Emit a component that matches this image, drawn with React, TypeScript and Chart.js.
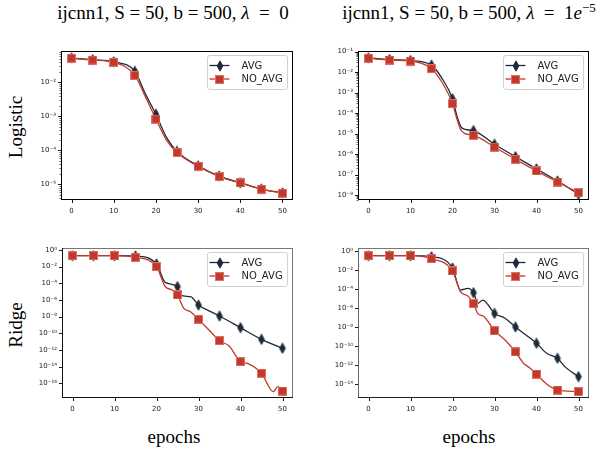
import React, { useEffect, useRef } from "react";
import { Chart, registerables } from "chart.js";
Chart.register(...registerables);

// ---------------- data ----------------
const xTickValues = [0, 10, 20, 30, 40, 50];
const seriesNames = ["AVG", "NO_AVG"];

// Logistic, lambda = 0
const logL0Epochs = [0, 5, 10, 15, 17.5, 20, 22.5, 25, 30, 35, 40, 45, 50];
const logL0Avg = [0.052, 0.046, 0.04, 0.021, 4.6e-3, 1.15e-3, 2.4e-4, 9.3e-5, 3.5e-5, 1.75e-5, 1.12e-5, 7.3e-6, 5.6e-6];
const logL0NoAvg = [0.051, 0.045, 0.039, 0.016, 3.8e-3, 8.3e-4, 2.0e-4, 8.7e-5, 3.4e-5, 1.7e-5, 1.1e-5, 7.2e-6, 5.5e-6];

// Logistic, lambda = 1e-5
const logL5Epochs = [0, 5, 10, 15, 17.5, 20, 21, 22, 23, 25, 30, 35, 40, 45, 50];
const logL5Avg = [0.05, 0.041, 0.037, 0.022, 5.0e-3, 5.0e-4, 8.0e-5, 2.2e-5, 1.6e-5, 1.4e-5, 3.0e-6, 7.4e-7, 1.9e-7, 4.8e-8, 1.1e-8];
const logL5NoAvg = [0.048, 0.039, 0.035, 0.0148, 3.2e-3, 2.9e-4, 5.6e-5, 1.5e-5, 1.0e-5, 8.3e-6, 2.2e-6, 5.5e-7, 1.5e-7, 4.3e-8, 1.3e-8];

// Ridge, lambda = 0
const ridL0AvgEpochs = [0, 5, 10, 15, 20, 22.1, 25, 25.7, 28.1, 30, 32.5, 35, 40, 45, 50];
const ridL0Avg = [0.21, 0.21, 0.21, 0.19, 0.021, 1.3e-4, 4.0e-5, 4.0e-6, 2.5e-6, 2.5e-7, 5.0e-8, 1.2e-8, 4.8e-10, 1.9e-11, 1.6e-12];
const ridL0NoAvgEpochs = [0, 5, 10, 15, 20, 22.1, 23.7, 25, 26.5, 28.1, 30, 32.5, 35, 37.3, 40, 41.6, 45, 47.8, 48.9, 50];
const ridL0NoAvg = [0.21, 0.21, 0.21, 0.13, 0.01, 4.0e-5, 1.6e-5, 4.0e-6, 1.0e-7, 4.0e-8, 4.8e-9, 2.5e-10, 1.3e-11, 3.0e-12, 4.0e-14, 2.5e-14, 1.6e-15, 1.0e-17, 4.0e-17, 1.2e-17];

// Ridge, lambda = 1e-5
const ridL5AvgEpochs = [0, 5, 10, 15, 20, 21.9, 23.7, 25, 26.1, 27.2, 30, 32.5, 35, 37.5, 40, 42.4, 45, 46.8, 50];
const ridL5Avg = [0.3, 0.3, 0.3, 0.23, 0.015, 7.4e-5, 1.1e-4, 3.9e-5, 3.0e-6, 6.6e-6, 2.6e-7, 8.0e-8, 9.7e-9, 1.4e-9, 1.9e-10, 1.7e-11, 5.0e-12, 6.3e-13, 5.9e-14];
const ridL5NoAvgEpochs = [0, 5, 10, 15, 20, 21.9, 23.7, 25, 26.1, 27.3, 30, 32.5, 35, 36.9, 38.5, 40, 42.4, 44, 45, 50];
const ridL5NoAvg = [0.3, 0.3, 0.3, 0.145, 7.4e-3, 5.0e-5, 1.7e-5, 2.8e-6, 2.2e-7, 1.4e-7, 4.0e-9, 4.2e-10, 2.3e-11, 1.5e-12, 4.5e-13, 1.1e-13, 1.0e-14, 3.5e-15, 2.3e-15, 1.6e-15];

// axis ranges and y tick exponents
const logL0Range = [3.47e-6, 0.0832];
const logL0Major = [-2, -3, -4, -5];
const logL5Range = [5.7e-9, 0.108];
const logL5Major = [-1, -2, -3, -4, -5, -6, -7, -8];
const ridL0Range = [1.74e-18, 1.74];
const ridL0Major = [0, -2, -4, -6, -8, -10, -12, -14, -16];
const ridL5Range = [3.39e-16, 1.92];
const ridL5Major = [0, -2, -4, -6, -8, -10, -12, -14];

// ---------------- style ----------------
const AVG_COLOR = "#1c2a3a";
const NOAVG_COLOR = "#c0392b";
const TICK_FONT = { family: "'DejaVu Sans', sans-serif", size: 7 };

function sup(n: number): string {
  const m: Record<string, string> = { "-": "⁻", "0": "⁰", "1": "¹", "2": "²", "3": "³", "4": "⁴", "5": "⁵", "6": "⁶", "7": "⁷", "8": "⁸", "9": "⁹" };
  return String(n).split("").map((c) => m[c] ?? c).join("");
}

let diamondImg: HTMLCanvasElement | null = null;
let squareImg: HTMLCanvasElement | null = null;
function getDiamond() {
  if (diamondImg) return diamondImg;
  const c = document.createElement("canvas");
  c.width = 8; c.height = 12;
  const g = c.getContext("2d")!;
  g.beginPath();
  g.moveTo(4, 0.8); g.lineTo(6.9, 6); g.lineTo(4, 11.2); g.lineTo(1.1, 6); g.closePath();
  g.fillStyle = AVG_COLOR; g.fill();
  g.strokeStyle = AVG_COLOR; g.lineWidth = 0.8; g.stroke();
  diamondImg = c;
  return c;
}
function getSquare() {
  if (squareImg) return squareImg;
  const c = document.createElement("canvas");
  c.width = 9; c.height = 9;
  const g = c.getContext("2d")!;
  g.fillStyle = "#de6f66"; g.fillRect(0, 0, 9, 9);
  g.fillStyle = NOAVG_COLOR; g.fillRect(1, 1, 7, 7);
  squareImg = c;
  return c;
}

type Spec = {
  area: [number, number, number, number];
  range: number[];
  major: number[];
  minors: boolean;
  avgEpochs: number[]; avg: number[];
  noAvgEpochs: number[]; noAvg: number[];
  spines: { left: string; bottom: string; top: string; right: string };
};

function buildYTicks(spec: Spec) {
  const [mn, mx] = spec.range;
  const vals: { value: number; major: boolean }[] = [];
  spec.major.forEach((e) => vals.push({ value: Math.pow(10, e), major: true }));
  if (spec.minors) {
    const lo = Math.floor(Math.log10(mn)) - 1, hi = Math.ceil(Math.log10(mx));
    for (let d = lo; d <= hi; d++) {
      for (let k = 2; k <= 9; k++) {
        const v = k * Math.pow(10, d);
        if (v >= mn && v <= mx) vals.push({ value: v, major: false });
      }
    }
  }
  vals.sort((a, b) => a.value - b.value);
  return vals;
}

function Panel({ spec }: { spec: Spec }) {
  const ref = useRef<HTMLCanvasElement>(null);
  const [x0, y0, x1, y1] = spec.area;
  const cx = x0 - 44, cy = y0 - 12;
  const cw = x1 - cx + 10, ch = y1 - cy + 22;

  useEffect(() => {
    const canvas = ref.current!;
    const yTicks = buildYTicks(spec);
    const isMajor = (v: number) => {
      const e = Math.log10(v);
      return Math.abs(e - Math.round(e)) < 1e-6 && spec.major.includes(Math.round(e));
    };
    const diamond = getDiamond();
    const square = getSquare();

    const framePlugin = {
      id: "frameAndLegend",
      afterDraw(chart: any) {
        const ctx = chart.ctx as CanvasRenderingContext2D;
        const { left, top, right, bottom } = chart.chartArea;
        const L = Math.round(left) + 0.5, T = Math.round(top) + 0.5, R = Math.round(right) - 0.5, B = Math.round(bottom) - 0.5;
        ctx.save();
        // tick marks
        ctx.strokeStyle = "#000";
        const ys = chart.scales.y;
        ys.ticks.forEach((t: any) => {
          const p = Math.round(ys.getPixelForValue(t.value)) + 0.5;
          const maj = isMajor(t.value);
          ctx.lineWidth = maj ? 0.9 : 0.6;
          ctx.beginPath(); ctx.moveTo(L - (maj ? 3.5 : 2), p); ctx.lineTo(L, p); ctx.stroke();
        });
        const xs = chart.scales.x;
        ctx.lineWidth = 0.9;
        xs.ticks.forEach((t: any) => {
          const p = Math.round(xs.getPixelForValue(t.value)) + 0.5;
          ctx.beginPath(); ctx.moveTo(p, B); ctx.lineTo(p, B + 3.5); ctx.stroke();
        });
        // spines
        ctx.lineWidth = 1;
        const seg = (c: string, ax: number, ay: number, bx: number, by: number) => {
          ctx.strokeStyle = c; ctx.beginPath(); ctx.moveTo(ax, ay); ctx.lineTo(bx, by); ctx.stroke();
        };
        seg(spec.spines.top, L - 0.5, T, R + 0.5, T);
        seg(spec.spines.right, R, T - 0.5, R, B + 0.5);
        seg(spec.spines.left, L, T - 0.5, L, B + 0.5);
        seg(spec.spines.bottom, L - 0.5, B, R + 0.5, B);

        // legend
        const w = 80, h = 34;
        const lx = Math.round(right) - 6 - w + 0.5, ly = Math.round(top) + 4 + 0.5;
        ctx.beginPath();
        (ctx as any).roundRect(lx, ly, w, h, 2.5);
        ctx.fillStyle = "rgba(255,255,255,0.8)"; ctx.fill();
        ctx.strokeStyle = "#d0d0d0"; ctx.lineWidth = 1; ctx.stroke();
        const rows = [
          { label: seriesNames[0], color: AVG_COLOR, img: diamond, dy: 10 },
          { label: seriesNames[1], color: NOAVG_COLOR, img: square, dy: 23.5 },
        ];
        rows.forEach((r) => {
          const yy = ly + r.dy;
          ctx.strokeStyle = r.color; ctx.lineWidth = 1.3;
          ctx.beginPath(); ctx.moveTo(lx + 2, yy); ctx.lineTo(lx + 22, yy); ctx.stroke();
          ctx.drawImage(r.img, Math.round(lx + 12 - r.img.width / 2), Math.round(yy - r.img.height / 2));
          ctx.fillStyle = "#222";
          ctx.font = "10px 'DejaVu Sans', sans-serif";
          ctx.textBaseline = "middle"; ctx.textAlign = "left";
          ctx.fillText(r.label, lx + 34, yy + 0.5);
        });
        ctx.restore();
      },
    };

    const mkDataset = (epochs: number[], vals: number[], color: string, img: HTMLCanvasElement, order: number, label: string) => ({
      label,
      data: epochs.map((x, i) => ({ x, y: vals[i] })),
      borderColor: color,
      backgroundColor: color,
      borderWidth: 1.3,
      cubicInterpolationMode: "monotone" as const,
      pointStyle: img,
      pointRadius: (c: any) => (epochs[c.dataIndex] % 5 === 0 ? 5 : 0),
      pointHoverRadius: 0,
      order,
    });

    const chart = new Chart(canvas, {
      type: "line",
      data: {
        datasets: [
          mkDataset(spec.avgEpochs, spec.avg, AVG_COLOR, diamond, 2, seriesNames[0]),
          mkDataset(spec.noAvgEpochs, spec.noAvg, NOAVG_COLOR, square, 1, seriesNames[1]),
        ] as any,
      },
      options: {
        responsive: false,
        animation: false,
        devicePixelRatio: 1,
        events: [],
        layout: { padding: { left: 0, top: y0 - cy, right: cx + cw - x1, bottom: 0 } },
        plugins: { legend: { display: false }, tooltip: { enabled: false } },
        scales: {
          x: {
            type: "linear",
            min: -2.5,
            max: 52.5,
            bounds: "data",
            afterBuildTicks: (s: any) => { s.ticks = xTickValues.map((v) => ({ value: v })); },
            afterFit: (s: any) => { s.height = cy + ch - y1; },
            ticks: { font: TICK_FONT, color: "#222", padding: 7, autoSkip: false, maxRotation: 0, callback: (v: any) => String(v) },
            grid: { display: false, drawTicks: false },
            border: { display: false },
          },
          y: {
            type: "logarithmic",
            min: spec.range[0],
            max: spec.range[1],
            bounds: "data",
            afterBuildTicks: (s: any) => { s.ticks = yTicks.map((t) => ({ value: t.value, major: t.major })); },
            afterFit: (s: any) => { s.width = x0 - cx; },
            ticks: {
              font: TICK_FONT, color: "#222", padding: 5, autoSkip: false,
              callback: (v: any) => (isMajor(Number(v)) ? "10" + sup(Math.round(Math.log10(Number(v)))) : ""),
            },
            grid: { display: false, drawTicks: false },
            border: { display: false },
          },
        },
      } as any,
      plugins: [framePlugin],
    });
    return () => chart.destroy();
  }, []);

  return (
    <canvas
      ref={ref}
      width={cw}
      height={ch}
      style={{ position: "absolute", left: cx, top: cy, width: cw, height: ch }}
    />
  );
}

const blackSpines = { left: "#000", bottom: "#000", top: "#000", right: "#000" };

const specs: Spec[] = [
  { area: [61, 51, 293, 200], range: logL0Range, major: logL0Major, minors: true, avgEpochs: logL0Epochs, avg: logL0Avg, noAvgEpochs: logL0Epochs, noAvg: logL0NoAvg, spines: blackSpines },
  { area: [358, 51, 589, 200], range: logL5Range, major: logL5Major, minors: true, avgEpochs: logL5Epochs, avg: logL5Avg, noAvgEpochs: logL5Epochs, noAvg: logL5NoAvg, spines: blackSpines },
  { area: [62, 248, 293, 398], range: ridL0Range, major: ridL0Major, minors: false, avgEpochs: ridL0AvgEpochs, avg: ridL0Avg, noAvgEpochs: ridL0NoAvgEpochs, noAvg: ridL0NoAvg, spines: { left: "#111", bottom: "#111", top: "#777", right: "#777" } },
  { area: [358, 248, 589, 398], range: ridL5Range, major: ridL5Major, minors: false, avgEpochs: ridL5AvgEpochs, avg: ridL5Avg, noAvgEpochs: ridL5NoAvgEpochs, noAvg: ridL5NoAvg, spines: { left: "#666", bottom: "#222", top: "#777", right: "#777" } },
];

const serif = "'Liberation Serif', 'Times New Roman', serif";
const textBase: React.CSSProperties = { position: "absolute", fontFamily: serif, fontSize: 19, lineHeight: "19px", color: "#000", whiteSpace: "nowrap", textAlign: "center" };

export default function App() {
  return (
    <div style={{ position: "absolute", left: 0, top: 0, width: 602, height: 455, overflow: "hidden", background: "#fff" }}>
      <div style={{ ...textBase, left: 173 - 160, top: 3, width: 320 }}>
        ijcnn1, S = 50, b = 500, <i>λ</i>&nbsp;&nbsp;=&nbsp;&nbsp;0
      </div>
      <div style={{ ...textBase, left: 469 - 170, top: 3, width: 340 }}>
        ijcnn1, S = 50, b = 500, <i>λ</i>&nbsp;&nbsp;=&nbsp;&nbsp;1<i>e</i>
        <span style={{ fontSize: 13, position: "relative", top: -7 }}>−5</span>
      </div>
      <div style={{ ...textBase, left: 16 - 50, top: 127 - 10, width: 100, height: 20, lineHeight: "20px", transform: "rotate(-90deg)" }}>Logistic</div>
      <div style={{ ...textBase, left: 16 - 50, top: 325 - 10, width: 100, height: 20, lineHeight: "20px", transform: "rotate(-90deg)" }}>Ridge</div>
      <div style={{ ...textBase, left: 174 - 50, top: 427, width: 100 }}>epochs</div>
      <div style={{ ...textBase, left: 469 - 50, top: 427, width: 100 }}>epochs</div>
      {specs.map((s, i) => (
        <Panel key={i} spec={s} />
      ))}
    </div>
  );
}
